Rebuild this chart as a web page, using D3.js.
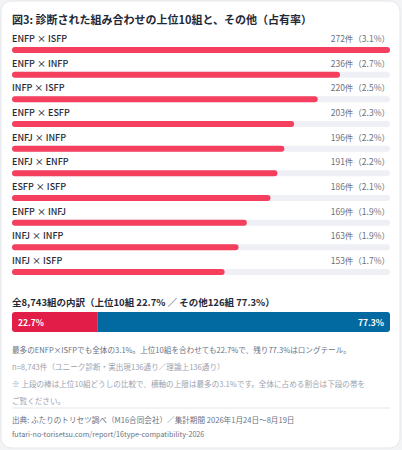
<!DOCTYPE html>
<html><head><meta charset="utf-8">
<script src="https://cdn.jsdelivr.net/npm/d3@7"></script>
<style>
body{margin:0;background:#f3f4f6;font-family:"Noto Sans CJK JP","Noto Sans",sans-serif;}
</style></head>
<body><svg id="chart" width="402" height="450"></svg>
<script>
const pairs = ["ENFP × ISFP","ENFP × INFP","INFP × ISFP","ENFP × ESFP","ENFJ × INFP","ENFJ × ENFP","ESFP × ISFP","ENFP × INFJ","INFJ × INFP","INFJ × ISFP"];
const counts = [272,236,220,203,196,191,186,169,163,153];
const shares = ["3.1%","2.7%","2.5%","2.3%","2.2%","2.2%","2.1%","1.9%","1.9%","1.7%"];
const splitLabels = ["上位10組","その他"];
const splitValues = [22.7,77.3];
const splitColors = ["#e11d48","#0369a1"];

const svg = d3.select("#chart");
svg.append("rect").attr("x",1).attr("y",1).attr("width",399).attr("height",447).attr("rx",10)
  .attr("fill","#fff").attr("stroke","#e5e7eb");

svg.append("text").attr("x",12).attr("y",24).attr("font-size",11).attr("font-weight",600)
  .attr("fill","#1f2937").text("図3: 診断された組み合わせの上位10組と、その他（占有率）");

const x = d3.scaleLinear().domain([0, d3.max(counts)]).range([12, 390]);
const y = d3.scaleLinear().domain([0, 9]).range([42, 264]);

const rows = svg.selectAll("g.row").data(pairs).join("g").attr("class","row")
  .attr("transform",(d,i)=>`translate(0,${y(i)})`);
rows.append("text").attr("x",12).attr("y",0).attr("font-size",9).attr("font-weight",500)
  .attr("fill","#1f2937").text(d=>d);
rows.append("text").attr("x",390).attr("y",0).attr("text-anchor","end").attr("font-size",8.5)
  .attr("fill","#6b7280").text((d,i)=>`${counts[i]}件（${shares[i]}）`);
rows.append("rect").attr("x",12).attr("y",5).attr("height",6).attr("rx",3)
  .attr("width",x(d3.max(counts))-12).attr("fill","#eef0f5");
rows.append("rect").attr("x",12).attr("y",5).attr("height",6).attr("rx",3)
  .attr("width",(d,i)=>x(counts[i])-12).attr("fill","#f43f5e");

svg.append("text").attr("x",12).attr("y",306).attr("font-size",9.5).attr("font-weight",600)
  .attr("fill","#1f2937").text("全8,743組の内訳（上位10組 22.7% ／ その他126組 77.3%）");

const sx = d3.scaleLinear().domain([0,100]).range([12,390]);
const starts = [0, splitValues[0]];
svg.append("clipPath").attr("id","clip").append("rect").attr("x",12).attr("y",312)
  .attr("width",378).attr("height",20).attr("rx",3);
const seg = svg.append("g").attr("clip-path","url(#clip)");
seg.selectAll("rect").data(splitValues).join("rect")
  .attr("x",(d,i)=>sx(starts[i])).attr("y",312).attr("height",20)
  .attr("width",d=>sx(d)-sx(0)).attr("fill",(d,i)=>splitColors[i]);
svg.append("text").attr("x",sx(0)+6).attr("y",325.5).attr("font-size",8.5).attr("font-weight",600)
  .attr("fill","#fff").text(splitValues[0]+"%");
svg.append("text").attr("x",sx(100)-6).attr("y",325.5).attr("text-anchor","end").attr("font-size",8.5)
  .attr("font-weight",600).attr("fill","#fff").text(splitValues[1]+"%");

const notes = [
  ["最多のENFP×ISFPでも全体の3.1%。上位10組を合わせても22.7%で、残り77.3%はロングテール。","#6b7280",353],
  ["n=8,743件（ユニーク診断・実出現136通り／理論上136通り）","#9ca3af",370],
  ["※ 上段の棒は上位10組どうしの比較で、横軸の上限は最多の3.1%です。全体に占める割合は下段の帯を","#9ca3af",387],
  ["ご覧ください。","#9ca3af",404]
];
svg.selectAll("text.note").data(notes).join("text").attr("class","note")
  .attr("x",12).attr("y",d=>d[2]).attr("font-size",7.6).attr("fill",d=>d[1]).text(d=>d[0]);

svg.append("line").attr("x1",12).attr("x2",390).attr("y1",408).attr("y2",408)
  .attr("stroke","#e5e7eb");
svg.append("text").attr("x",12).attr("y",423).attr("font-size",7.6).attr("fill","#6b7280")
  .text("出典: ふたりのトリセツ調べ（M16合同会社）／集計期間 2026年1月24日〜8月19日");
svg.append("text").attr("x",12).attr("y",437).attr("font-size",7.2).attr("fill","#6b7280")
  .text("futari-no-torisetsu.com/report/16type-compatibility-2026");
</script></body></html>
